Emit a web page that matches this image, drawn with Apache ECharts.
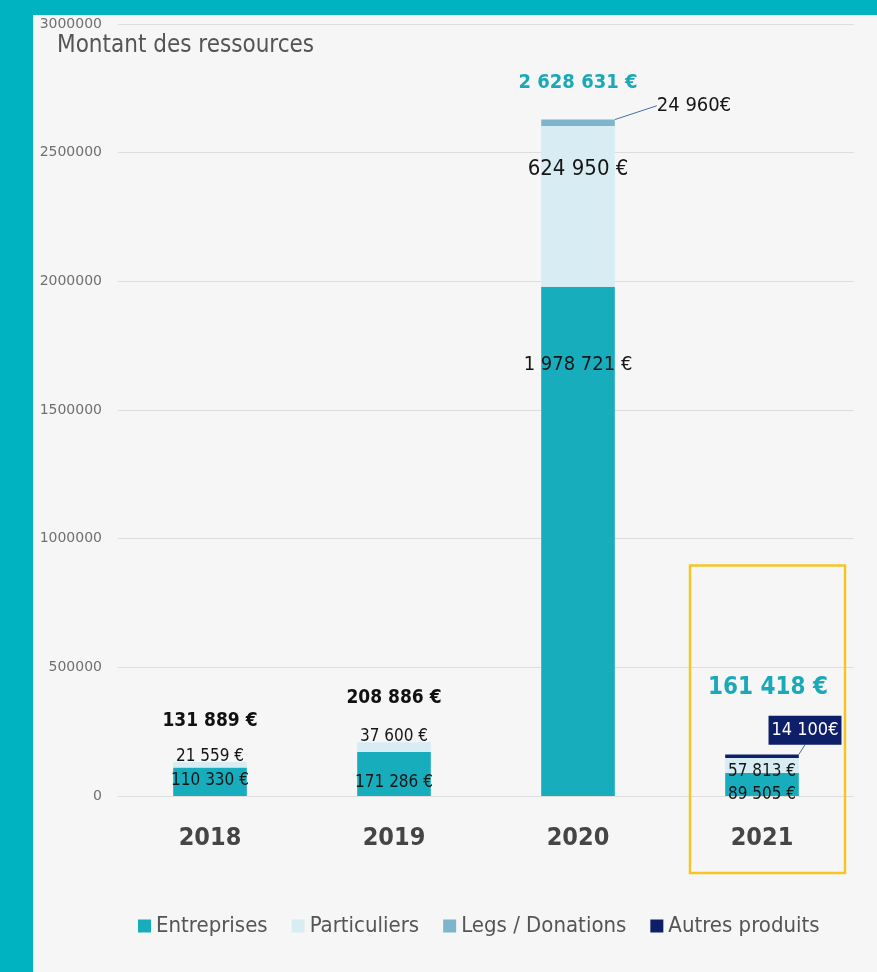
<!DOCTYPE html>
<html><head><meta charset="utf-8">
<script src="https://cdn.jsdelivr.net/npm/echarts@6/dist/echarts.min.js"></script>
<style>
html,body{margin:0;padding:0;width:877px;height:972px;background:#00b3c1;overflow:hidden}
#chart{position:absolute;left:33px;top:15px;width:844px;height:957px;background:#f6f6f6}
</style></head><body>
<div id="chart"></div>
<script>
const categories = ['2018', '2019', '2020', '2021'];
const seriesNames = ['Entreprises', 'Particuliers', 'Legs / Donations', 'Autres produits'];
const entreprises = [110330, 171286, 1978721, 89505];
const particuliers = [21559, 37600, 624950, 57813];
const legs = [0, 0, 24960, 0];
const autres = [0, 0, 0, 14100];
const yMin = 0, yMax = 3000000, yStep = 500000;

const COND = '"Liberation Sans Narrow","DejaVu Sans Condensed","Roboto Condensed",sans-serif';
const colors = ['#17adbd', '#d8edf3', '#7db6cc', '#0c1f68'];
const totals = categories.map((_, i) => entreprises[i] + particuliers[i] + legs[i] + autres[i]);

function fmt(v, sep) { return String(v).replace(/\B(?=(\d{3})+(?!\d))/g, ' ') + sep + '€'; }

// label shifts (pixels) and font sizes per series / category
const shifts = {
  0: { dx: [0, 0, 0, 0], dy: [-1, 9, -177, 10], fs: [17, 17, 20, 17] },
  1: { dx: [0, 0, 0, 0], dy: [-8, -11, -37, 6], fs: [17, 17, 22, 17] },
  2: { dx: [0, 0, 37, 0], dy: [0, 0, -17, 0], fs: [20, 20, 20, 20] },
  3: { dx: [0, 0, 0, 43], dy: [0, 0, 0, -26], fs: [18, 18, 18, 18] },
  4: { dx: [0, 0, 0, 6], dy: [-26, -30, -22, -50], fs: [19, 19, 20, 24] }
};

const values = [entreprises, particuliers, legs, autres];
const stacked = values.map((arr, s) => ({
  name: seriesNames[s],
  type: 'bar',
  stack: 'res',
  barWidth: '40%',
  itemStyle: { color: colors[s] },
  emphasis: { disabled: true },
  data: arr.map((v, i) => v === 0 ? null : { value: v, label: { fontSize: shifts[s].fs[i] } }),
  label: {
    show: true,
    position: s === 2 ? 'right' : 'inside',
    fontFamily: COND,
    color: s === 3 ? '#ffffff' : '#161616',
    backgroundColor: s === 3 ? colors[3] : 'transparent',
    padding: s === 3 ? [6, 3, 5, 3] : 0,
    formatter: p => fmt(p.value, s >= 2 ? '' : ' ')
  },
  labelLine: { show: s >= 2, lineStyle: { color: '#4a6fa0', width: 1 } },
  labelLayout: p => ({ dx: shifts[s].dx[p.dataIndex], dy: shifts[s].dy[p.dataIndex] })
}));

const totalSeries = {
  name: 'Total', type: 'bar', barWidth: '40%', barGap: '-100%', silent: true,
  itemStyle: { color: 'rgba(0,0,0,0)' },
  emphasis: { disabled: true },
  data: totals.map((v, i) => ({
    value: v,
    label: { color: i >= 2 ? '#1aa9b8' : '#111111', fontSize: shifts[4].fs[i] }
  })),
  label: {
    show: true, position: 'top', fontFamily: COND, fontWeight: 'bold',
    formatter: p => fmt(p.value, ' ')
  },
  labelLayout: p => ({ dx: shifts[4].dx[p.dataIndex], dy: shifts[4].dy[p.dataIndex] }),
  z: 5
};

const chart = echarts.init(document.getElementById('chart'));
chart.setOption({
  animation: false,
  backgroundColor: '#f6f6f6',
  title: {
    text: 'Montant des ressources', left: 19, top: 14,
    textStyle: { fontFamily: COND, fontSize: 24, fontWeight: 'normal', color: '#555555' }
  },
  grid: { left: 85, right: 23, top: 9, bottom: 176 },
  legend: {
    data: seriesNames, left: 100, bottom: 30, icon: 'rect', itemWidth: 13, itemHeight: 13, itemGap: 24,
    textStyle: { fontFamily: COND, fontSize: 22, color: '#555555' }
  },
  xAxis: {
    type: 'category', data: categories,
    axisLine: { show: false }, axisTick: { show: false },
    axisLabel: { margin: 30, fontFamily: COND, fontSize: 25, fontWeight: 'bold', color: '#454545' }
  },
  yAxis: {
    type: 'value', min: yMin, max: yMax, interval: yStep,
    axisLabel: { fontFamily: '"DejaVu Sans",sans-serif', fontSize: 14, color: '#707070', margin: 16,
      formatter: v => String(v) },
    splitLine: { lineStyle: { color: '#dedede' } }
  },
  series: [...stacked, totalSeries]
});

// highlight frame around the last category
const cx = chart.convertToPixel({ xAxisIndex: 0 }, categories[3]);
const yTop = chart.convertToPixel({ yAxisIndex: 0 }, 900000);
const y0 = chart.convertToPixel({ yAxisIndex: 0 }, 0);
chart.setOption({
  graphic: [{
    type: 'rect', shape: { x: cx - 72, y: yTop + 1, width: 155, height: y0 - yTop + 76 },
    style: { fill: 'none', stroke: '#f5c525', lineWidth: 2.5 }, silent: true, z: 10
  }]
});
</script></body></html>
